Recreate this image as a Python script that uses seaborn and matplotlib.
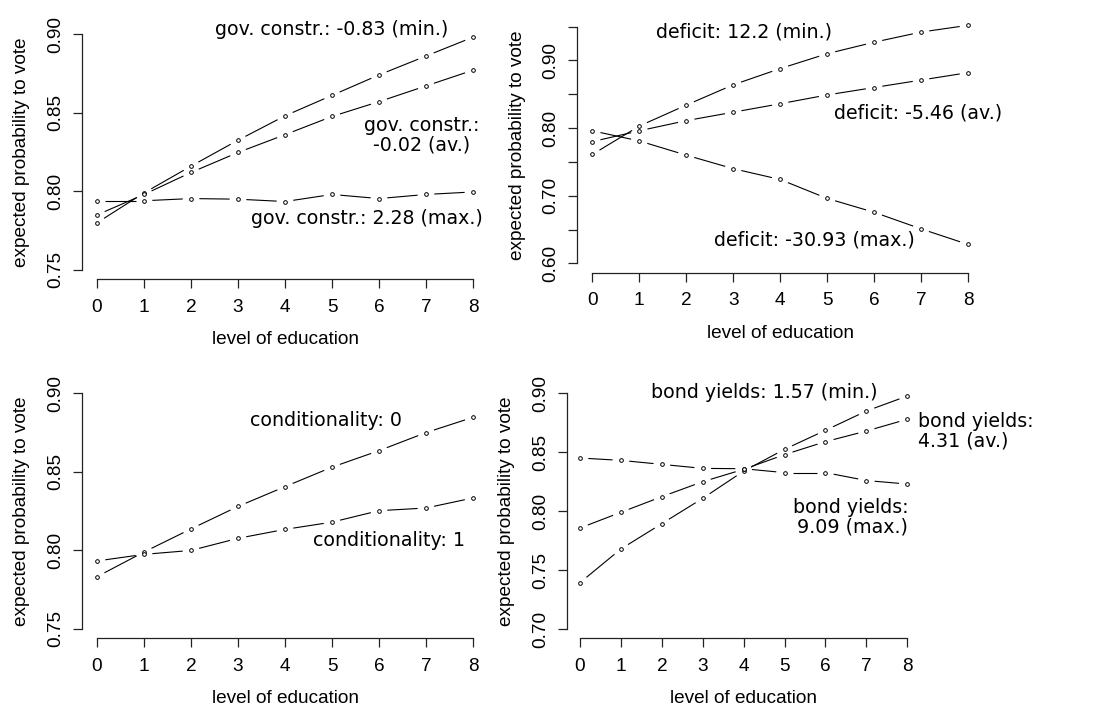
import matplotlib
matplotlib.use("Agg")
import matplotlib.pyplot as plt
import numpy as np
import seaborn as sns

# ---------- data ----------
education = [0, 1, 2, 3, 4, 5, 6, 7, 8]

gov_min = [0.780, 0.799, 0.816, 0.8325, 0.848, 0.861, 0.874, 0.886, 0.898]
gov_av = [0.785, 0.798, 0.812, 0.8247, 0.836, 0.8476, 0.857, 0.867, 0.877]
gov_max = [0.794, 0.794, 0.7954, 0.795, 0.7935, 0.798, 0.7954, 0.798, 0.7996]

deficit_min = [0.761, 0.803, 0.834, 0.864, 0.888, 0.910, 0.927, 0.942, 0.952]
deficit_av = [0.780, 0.796, 0.811, 0.8235, 0.836, 0.849, 0.860, 0.871, 0.882]
deficit_max = [0.796, 0.781, 0.760, 0.740, 0.724, 0.696, 0.6755, 0.651, 0.628]

cond_0 = [0.7833, 0.799, 0.8137, 0.828, 0.8406, 0.853, 0.8635, 0.875, 0.8847]
cond_1 = [0.7933, 0.7975, 0.800, 0.8077, 0.8134, 0.818, 0.8253, 0.827, 0.8334]

bond_min = [0.7393, 0.7679, 0.7894, 0.8109, 0.834, 0.8525, 0.8686, 0.885, 0.8977]
bond_av = [0.7857, 0.799, 0.8123, 0.825, 0.8355, 0.848, 0.859, 0.868, 0.878]
bond_max = [0.8451, 0.8431, 0.8397, 0.8363, 0.836, 0.8327, 0.8327, 0.826, 0.823]

sns.set_theme(style="ticks")
plt.rcParams["font.family"] = ["Liberation Sans", "DejaVu Sans"]
plt.rcParams["text.color"] = "black"
plt.rcParams["axes.labelcolor"] = "black"
plt.rcParams["xtick.color"] = "black"
plt.rcParams["ytick.color"] = "black"

AX_FS = 13.7
TXT_FS = 13.7
GAP_PT = 6.0  # gap left around each point, like R's type="b"

fig = plt.figure(figsize=(10.99, 7.09), dpi=100)
W, H = 1099, 709


def make_axes(left, right, top, bottom):
    return fig.add_axes([left / W, 1 - bottom / H, (right - left) / W, (bottom - top) / H])


def style_panel(ax, yticks, ylabels, ylim):
    pad_y = (ylim[1] - ylim[0]) * 0.04
    ax.set_xlim(-8 * 0.04, 8 * 1.04)
    ax.set_ylim(ylim[0] - pad_y, ylim[1] + pad_y)
    ax.set_xticks(education)
    ax.set_xticklabels([str(e) for e in education], fontsize=AX_FS)
    ax.set_yticks(yticks)
    ax.set_yticklabels(ylabels, fontsize=AX_FS, rotation=90, va="center")
    ax.spines["top"].set_visible(False)
    ax.spines["right"].set_visible(False)
    ax.spines["left"].set_bounds(yticks[0], yticks[-1])
    ax.spines["bottom"].set_bounds(0, 8)
    for s in ("left", "bottom"):
        ax.spines[s].set_color("#222222")
        ax.spines[s].set_linewidth(0.9)
    ax.tick_params(axis="x", direction="out", length=6.5, width=0.9, color="#222222", pad=7.5)
    ax.tick_params(axis="y", direction="out", length=6.5, width=0.9, color="#222222", pad=6.5)
    ax.set_xlabel("level of education", fontsize=AX_FS, labelpad=11)
    ax.set_ylabel("expected probability to vote", fontsize=AX_FS, labelpad=12)
    ax.set_facecolor("white")


def draw_series(ax, series):
    # R type="b": each segment stops short of the points it joins
    gap = GAP_PT * fig.dpi / 72.0
    to_disp = ax.transData
    to_data = ax.transData.inverted()
    for vals in series:
        pts = to_disp.transform(np.column_stack([education, vals]))
        for p0, p1 in zip(pts[:-1], pts[1:]):
            d = p1 - p0
            length = float(np.hypot(d[0], d[1]))
            if length <= 2 * gap:
                continue
            u = d / length
            seg = to_data.transform(np.vstack([p0 + u * gap, p1 - u * gap]))
            ax.plot(seg[:, 0], seg[:, 1], color="black", linewidth=0.8,
                    solid_capstyle="butt", zorder=1)
        sns.scatterplot(x=education, y=vals, ax=ax, s=7, facecolor="white",
                        edgecolor="black", linewidth=0.7, zorder=3)


def label(ax, x, y, text, ha="center"):
    ax.text(x, y, text, ha=ha, va="center", fontsize=TXT_FS, family="DejaVu Sans",
            multialignment=ha, linespacing=1.05, clip_on=False, zorder=4)


# ---------- panel 1: government constraints ----------
ax1 = make_axes(82, 488, 24.6, 279.4)
style_panel(ax1, [0.75, 0.80, 0.85, 0.90], ["0.75", "0.80", "0.85", "0.90"], (0.75, 0.90))
draw_series(ax1, [gov_min, gov_av, gov_max])
label(ax1, 5.0, 0.9032, "gov. constr.: -0.83 (min.)")
label(ax1, 6.91, 0.8357, "gov. constr.:\n-0.02 (av.)")
label(ax1, 5.74, 0.7829, "gov. constr.: 2.28 (max.)")

# ---------- panel 2: deficit ----------
ax2 = make_axes(577.3, 983, 17.2, 272.8)
def_ticks = [0.60, 0.65, 0.70, 0.75, 0.80, 0.85, 0.90, 0.95]
def_labels = ["0.60", "", "0.70", "", "0.80", "", "0.90", ""]
style_panel(ax2, def_ticks, def_labels, (0.60, 0.95))
draw_series(ax2, [deficit_min, deficit_av, deficit_max])
label(ax2, 3.23, 0.9425, "deficit: 12.2 (min.)")
label(ax2, 6.93, 0.8226, "deficit: -5.46 (av.)")
label(ax2, 4.73, 0.6347, "deficit: -30.93 (max.)")

# ---------- panel 3: conditionality ----------
ax3 = make_axes(82, 488, 383.9, 638.4)
style_panel(ax3, [0.75, 0.80, 0.85, 0.90], ["0.75", "0.80", "0.85", "0.90"], (0.75, 0.90))
draw_series(ax3, [cond_0, cond_1])
label(ax3, 4.87, 0.8824, "conditionality: 0")
label(ax3, 6.21, 0.806, "conditionality: 1")

# ---------- panel 4: bond yields ----------
ax4 = make_axes(566.9, 920.4, 383.9, 638.4)
style_panel(ax4, [0.70, 0.75, 0.80, 0.85, 0.90], ["0.70", "0.75", "0.80", "0.85", "0.90"], (0.70, 0.90))
draw_series(ax4, [bond_min, bond_av, bond_max])
label(ax4, 4.51, 0.9003, "bond yields: 1.57 (min.)")
label(ax4, 8.26, 0.868, "bond yields:\n4.31 (av.)", ha="left")
label(ax4, 8.02, 0.795, "bond yields:\n9.09 (max.)", ha="right")

fig.savefig("out.png", dpi=100, facecolor="white")
